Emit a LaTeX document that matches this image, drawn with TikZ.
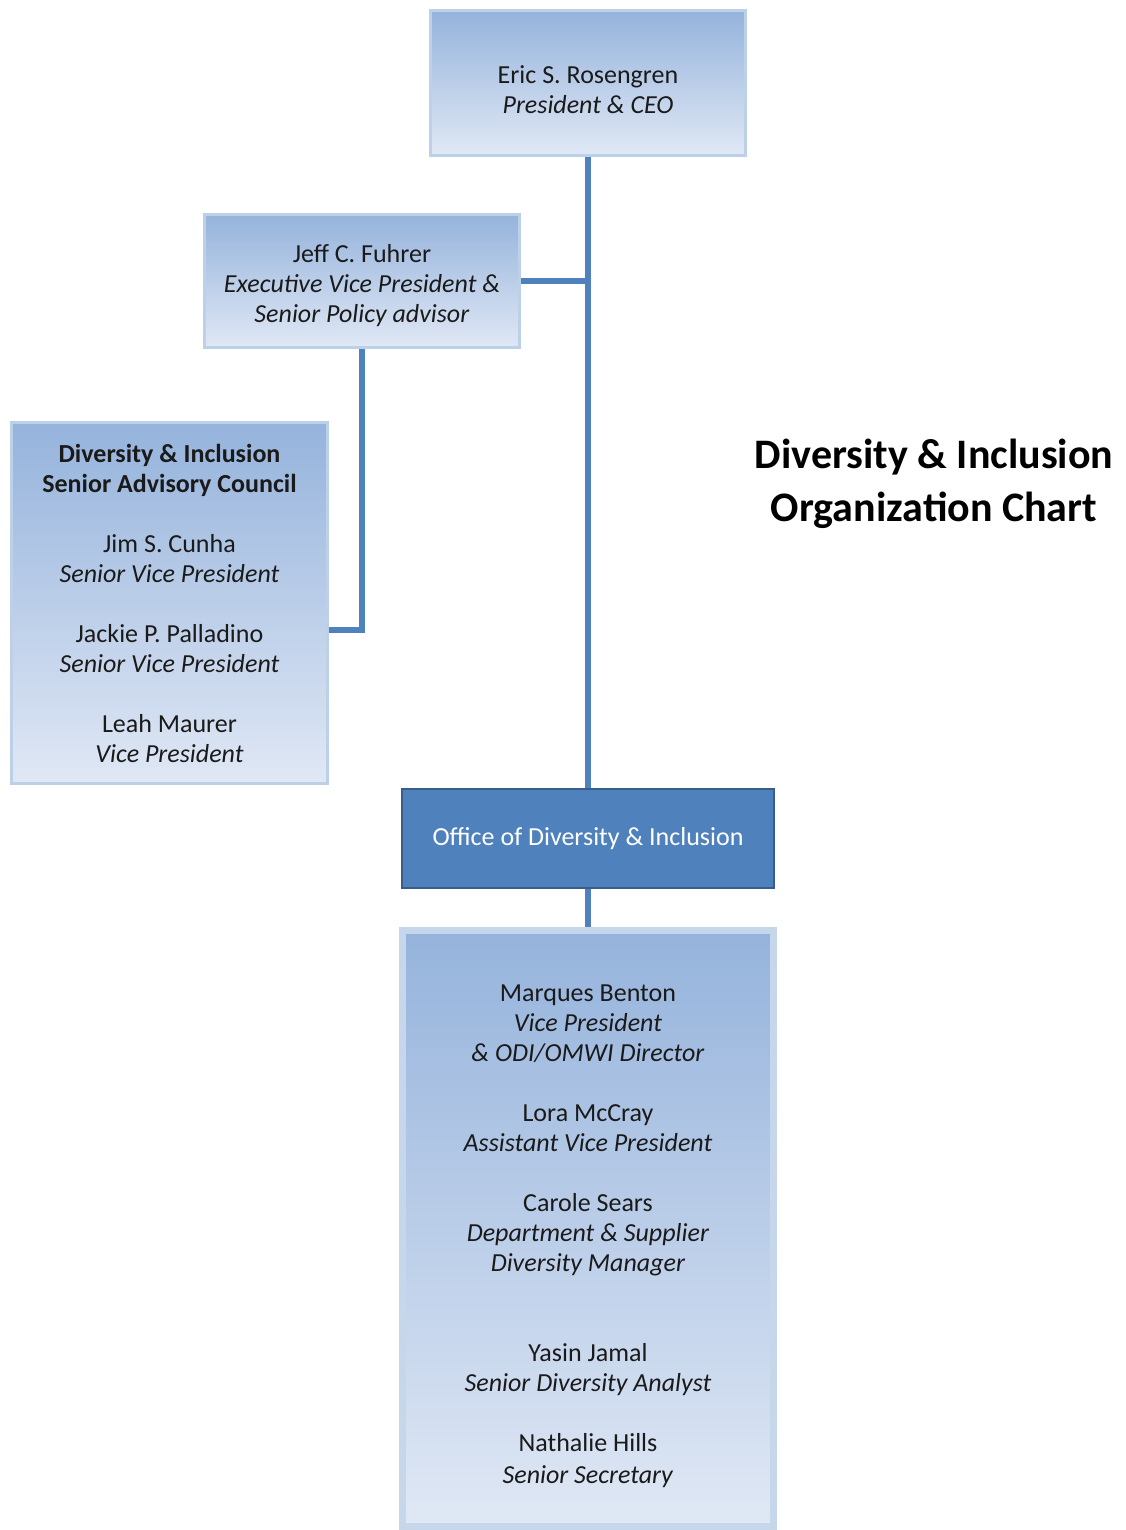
\documentclass[tikz,border=0pt]{standalone}
\usepackage{fontspec}
\setmainfont{Carlito}
\definecolor{linkblue}{HTML}{4F81BD}
\definecolor{officeedge}{HTML}{385D8A}
\definecolor{edgeblue}{HTML}{BCD0E8}
\definecolor{gradtop}{HTML}{95B3DC}
\definecolor{gradbot}{HTML}{E0E8F5}
\definecolor{inktext}{HTML}{1A1A1A}
\newcommand{\lift}[1]{\rule{0pt}{#1}}
\tikzset{
  person/.style={draw=edgeblue, line width=3pt, top color=gradtop, bottom color=gradbot,
    align=center, text=inktext, inner sep=0pt, font=\fontsize{26}{30}\selectfont},
  office/.style={draw=officeedge, line width=2.5pt, fill=linkblue, text=white,
    inner sep=0pt, font=\fontsize{26}{30}\selectfont},
  link/.style={draw=linkblue, line width=6pt},
}

\begin{document}
\begin{tikzpicture}[x=1pt,y=-1pt]
  \useasboundingbox (0,0) rectangle (1125,1530);
  % boxes
  \node[person, minimum width=315pt, minimum height=145pt] (ceo) at (588,83)
    {\lift{32pt}Eric S. Rosengren\\\textit{President \& CEO}};
  \node[person, minimum width=315pt, minimum height=133pt] (jeff) at (362,281)
    {\lift{27pt}Jeff C. Fuhrer\\\textit{Executive Vice President \&}\\\textit{Senior Policy advisor}};
  \node[person, minimum width=316pt, minimum height=361pt] (council) at (169.5,603)
    {\textbf{Diversity \& Inclusion}\\\textbf{Senior Advisory Council}\\[30pt]
     Jim S. Cunha\\\textit{Senior Vice President}\\[30pt]
     Jackie P. Palladino\\\textit{Senior Vice President}\\[30pt]
     Leah Maurer\\\textit{Vice President}};
  \node[office, minimum width=372pt, minimum height=99pt] (odi) at (588,838.5)
    {Office of Diversity \& Inclusion};
  \node[person, line width=7pt, draw=edgeblue!85, minimum width=371pt, minimum height=596pt] (staff) at (588,1228.5)
    {\lift{33pt}Marques Benton\\\textit{Vice President}\\\textit{\& ODI/OMWI Director}\\[30pt]
     Lora McCray\\\textit{Assistant Vice President}\\[30pt]
     Carole Sears\\\textit{Department \& Supplier}\\\textit{Diversity Manager}\\[60pt]
     Yasin Jamal\\\textit{Senior Diversity Analyst}\\[30pt]
     Nathalie Hills\\[2pt]\textit{Senior Secretary}};
  % title
  \node[align=center, font=\fontsize{42}{53}\selectfont\bfseries] (title) at (934,484)
    {Diversity \& Inclusion\\Organization Chart};
  % connectors
  \draw[link] (ceo.south) -- (odi.north);
  \draw[link] (jeff.east) -- (jeff.east -| ceo.south);
  \draw[link] (jeff.south) |- ([yshift=-27pt]council.east);
  \draw[link] (odi.south) -- (staff.north);
\end{tikzpicture}
\end{document}
